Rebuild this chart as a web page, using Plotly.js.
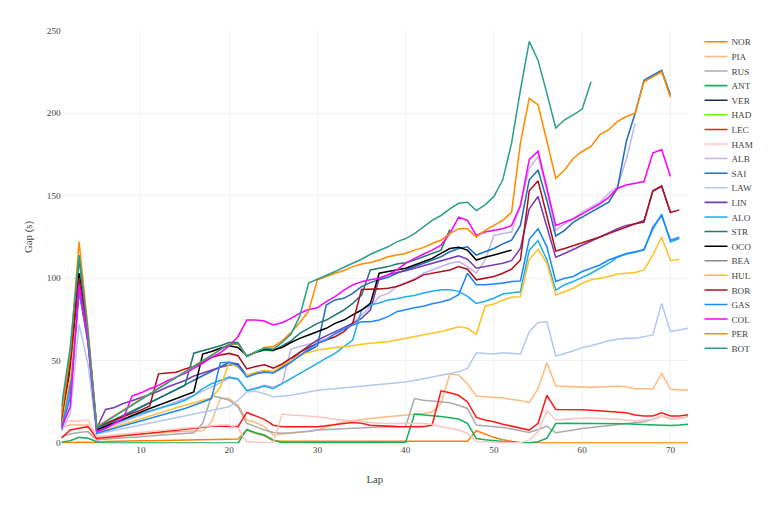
<!DOCTYPE html>
<html lang="en">
<head>
<meta charset="utf-8">
<title>Gap to leader</title>
<script src="https://cdn.plot.ly/plotly-3.0.1.min.js"></script>
<style>
html, body { margin: 0; padding: 0; background: #fff; overflow: hidden; }
#wrap { width: 768px; height: 506px; overflow: hidden; }
#chart { width: 1000px; height: 659px; transform: scale(0.768); transform-origin: 0 0; }
</style>
</head>
<body>
<div id="wrap"><div id="chart"></div></div>
<script>
var drivers = ["NOR","PIA","RUS","ANT","VER","HAD","LEC","HAM","ALB","SAI","LAW","LIN","ALO","STR","OCO","BEA","HUL","BOR","GAS","COL","PER","BOT"];
var colors = ["#FF8000","#FFBB80","#ABABAB","#17B05A","#1B2A5C","#66FF00","#FF1A1A","#FFC4C4","#C4B4EE","#1F6FBF","#B4C8F0","#7A3DB0","#1EAEF0","#1F7A70","#000000","#8C8C8C","#FFC125","#B0101E","#1E88FF","#FF00FF","#FF8C00","#2E9E8C"];

var NOR = [0,0.3,0.5,0.5,0.3, 1,1.2,1.3,1.4,1.5, 1.5,1.6,1.7,1.8,1.8, 1.9,2,2,2.1,2.2, 2.5,8,6,4.5,1.5, 1.2,1.2,1.2,1.2,1.2, 1.2,1.2,1.2,1.2,1.2, 1.2,1.2,1.2,1.2,1.2, 1.2,1.2,1.2,1.2,1.2, 1.2,1.2,7.5,5.5,3.5, 2,1,0.3,0,0, 0,0,0,0,0, 0,0,0,0,0, 0,0,0,0,0, 0,0];
var PIA = [10,11,11,11,3.5, 4,4.5,5,5.3,5.6, 6,6.3,6.6,6.9,7.2, 7.5,7.5,13,27,27, 23,14,12.5,10,4.9, 5.5,6,6.5,7,7.9, 9.5,11,12.9,13.5,14.4, 15,15.5,16,16.5,17, 17.5,18,19,24,41.9, 41.3,36,28.5,28.1,27.7, 27.3,26.5,25.8,24.5,33, 48.7,34.6,34.4,34.2,34, 33.8,34,34.2,34.5,34.2, 33,33,32.8,42.3,32.8, 32.2,32.2];
var RUS = [4,5.5,6.5,7,2, 2.5,3,3.3,3.6,4, 4.3,4.6,5,5.4,5.8, 6.3,12,28.7,27.7,26, 22,12,10,7.9,6.5, 6,6.3,6.6,7.2,7.9, 8.2,8.5,8.8,9.1,9.5, 9.6,9.8,10,10.2,10.3, 27,26,25.5,25,24.5, 23,21,11,10.5,10, 9.5,8.5,7.5,6.5,8.3, 10.3,6.3,7,7.9,8.9, 9.5,10.2,10.9,11.5,12, 12.4,13,14.4,16.4,14.8, 15,16];
var ANT = [0.5,1.5,3.5,3,0.8, 0,0,0,0,0, 0,0,0,0,0, 0,0,0,0,0, 0,8.3,6.3,4.9,1.8, 0.2,0.2,0.2,0.2,0.2, 0.2,0.2,0.2,0.2,0.2, 0.2,0.2,0.2,0.2,0.5, 17.6,17,16.6,16.2,15.4, 14.6,12,2.8,2,1.4, 1,0.8,0.3,0.3,0.8, 3,11.9,12,12,12, 12,11.9,11.9,11.8,11.7, 11.5,11.3,11.1,11,10.7, 11,11.5];
var VER = [13];
var HAD = [10];
var LEC = [3,8,9,10,2.8, 3.3,3.8,4.3,4.8,5.5, 6,6.6,7.2,7.8,8.6, 9.2,9.8,10.3,10.3,10.3, 10,18.6,16.4,14.4,10.9, 9.9,9.9,9.9,9.9,9.9, 10.5,11.3,11.9,12.5,12, 10.9,10.5,10.3,10,9.9, 9.9,10,11,31.7,30.5, 29,25,15.6,14,13, 11.5,10.3,9.3,7.9,12, 29,20.4,20.4,20.6,20.3, 20,19.6,19.2,18.8,18.4, 17,16.5,16.4,18.4,16.4, 16.4,17.2];
var HAM = [12.5,13.5,13.5,14,4, 4.5,5,5.5,6,6.5, 7,7.5,8,8.5,9, 9.5,10,10.5,11,11, 9,0.8,0.5,0.3,0.2, 17.6,17,16.8,16.4,16, 15.2,14.4,14,13.5,13, 12.3,12,11.9,11.9,11.9, 11.9,11.9,11.5,10,9, 8,6,1,0.8,0.5, 0.4,0.3,0.3,1.8,6.9, 19.6,14,14.4,15,15.3, 15.3,15.1,14.7,14.4,14, 13.5,14,14.4,16.4,14.8, 15,16];
var ALB = [9,30,92,62,7, 9,11,13,15,17, 19,21,23,25,27, 29,31.5,34,36.5,39.5, 38.5,32,33.5,35,34, 36,57,58.5,60,61.5, 63.5,66,69,73,77.5, 82.7,88.8,90.8,94.9,97.3, 99.5,103,105,107,109, 110,107,103,111,126, 127,128,144,166.7,173.7, 153,129,133,136,140, 143,146,151.5,155.5,172, 194];
var SAI = [11,35,93,63,8, 10.7,13.5,16.2,18.9,21.7, 24.4,27.1,29.9,32.6,35.3, 38.1,40.8,43.5,46.3,49, 48,41,42.5,44,43, 46,49.5,53,56,59, 83.7,86.8,87.8,90.8,94.9, 97.3,99,100.5,103,105, 107,109,111,113,116, 118,119,114,116,118, 120.8,123,132,159.6,165.6, 147,125.6,129,134,137, 140,143,146,154.5,183, 200,220,223,226,211];
var LAW = [7,18,72,48,5.5, 6.6,7.7,8.8,9.9,11, 12.1,13.2,14.3,15.4,16.5, 17.6,18.7,19.8,20.9,22, 26,31,31.5,30,28, 28.5,29,30,31,32, 32.5,33,33.5,34,34.5, 35,35.5,36,36.5,37, 38,39,40,41,42, 43.3,45.3,54.8,54.4,54, 54.8,54.4,54,67.6,73.2, 73.6,52.8,54.4,56,58, 59,60.5,62,63,63.5, 63.5,64.5,65.6,84.7,67.6, 68.6,69.6];
var LIN = [10,38,95,64,9, 20.4,21.6,24,25.7,27.7, 29.5,31.5,34,36,38, 40.7,42.5,44.3,46,47.3, 48,40.5,42,43.5,43, 46,50,55,59,62.5, 65,67.6,70,72.6,75.6, 80.7,100,102,103.5,104.5, 106,107.5,109,110.5,112, 113.5,111.5,106,107,108, 109,110.6,118,142,149.5, 131,112.7,115,117.5,120, 122.5,125,127.6,130,132, 133,135,152.6,155.5,139.8];
var ALO = [10,33,94,62,7, 9.5,12,14,16,18, 19.5,21,22.5,24,26, 29,33,36,38,40, 39,31.8,33,34.6,33, 36,39,42.3,45,48.3, 51.5,54.4,58.5,62.5,80.7, 83.7,85,86.8,87.5,88.8, 89.5,91,92,93,93, 92,89,84.7,86,87.8, 90.4,91.2,91.8,117,122.8, 111,92.8,96,98,100.5, 103,106,109,112.7,114.7, 115.7,117.5,129.6,138.8,122, 124];
var STR = [18,52,112,66,9, 11.6,14.2,16.8,19.4,22, 24.6,27.2,29.8,32.4,35, 54.5,56,57.5,59,61, 61,52.5,55,56.5,56, 59,62,66.5,69.6,72.6, 74.6,77.7,80.7,84.7,89.8, 105,106,107,108.6,109.4, 111,113,115,117,129.5];
var OCO = [12,45,103,64,8, 10.2,12.4,14.6,16.8,19, 21,23,25,27,29, 31,54,55.5,57.5,59, 58,53,55,57,56.5, 58,61,63.5,65.5,67.6, 69.6,72.6,74.6,77.7,80.7, 84.7,103,104,105,106, 108,110,112,115,118, 118.7,117,111,112.7,114, 115.5,117];
var BEA = [5];
var HUL = [12,40,98,63,6.5, 8,9.7,11.4,13,14.7, 16.4,18,19.7,21.4,23, 24.5,26,27.5,34,48.7, 46,41,43,44,43.5, 47,50,53.4,55,56.4, 57.2,58,58.5,59,60, 60.5,61,61.5,62.5,63.5, 64.5,65.5,66.5,67.6,69, 70.6,69.6,66,83,84.3, 86.8,88.4,88.8,111.4,117.5, 109,89.8,91.8,93.9,96.9, 99,100,101,102.5,103, 103.4,105,114,125,110.6, 111.4];
var BOR = [14,48,100,65,9.5, 12,14,16,18,20, 22.5,42,42.5,43,45, 46.5,49,52,53.4,54.4, 53,45,46.5,47.5,45.5, 48,51.5,55,58,60.5, 62.5,64.5,67.6,72.6,93.2, 93.2,93.5,93.9,95,96.9, 99,102,103,104,105, 107,105.4,99,100,101, 103,105.5,111,153,159, 138,116.5,118,119.7,121.6, 123,125,127,129,131, 133,134,153,156,139.8, 141.4];
var GAS = [8,28,92,61,6, 7.5,9,10.5,12,13.5, 15,16.5,18,19.5,21, 23,25,27,48.7,49, 47,40,42,43,42.5, 45.5,49,53,57,60.5, 62.5,66.5,69,71.6,73.6, 73.6,74.6,76.7,79.7,81, 82,83,84.5,85.5,87, 90,103,96,96,96.5, 97,98,98.3,123.6,130, 119,98,100,101,104, 106,108,111,113,115, 116,117,131,138,123, 124.8];
var COL = [9,22,96,62,6.9, 8.9,12,15,28.5,30.5, 33,35,37.8,40,42.3, 45.3,48.3,52,54.8,59, 64.5,74.6,74.6,74,71.6, 73,75.6,78.7,81,82, 85.8,88.8,92.8,95.9,97.9, 99,100,102,105,109, 112,114.5,117,120,127, 137,135,126,128,129, 130,132,144,172,177, 154.5,132,134,136,139, 142,145,149,154.5,156.5, 157.6,158.6,175.8,178,161.6];
var PER = [17,55,122,70,10, 13.3,16.7,20,23.3,26.7, 30,33.3,36.7,40,43.3, 46.7,50,53.3,56.7,60, 60,53,55,58,58.5, 62,67,73,80,99, 101,103,104.6,107,108.6, 109.5,111,113,114,115, 117,118.5,121,123,127, 130,130,125,129,132, 135,140,182,209,205, 183,160.6,165.6,172.7,176.8, 179.8,187,190,195,198, 200,219,222,225,209.7];
var BOT = [22,58,114,68,9.5, 12.9,16.2,19.6,23,26.3, 29.7,33,36.4,39.8,43.1, 46.5,49.9,53.2,56.6,60, 60.5,52.5,55.5,57.5,57, 61,66,77,97,99.3, 101.5,104,106.6,109,111.5, 114.5,116.7,119,122,124, 127,131,135,138,142, 145.4,146,141,144.4,149.5, 159.6,182,214,243.5,232, 212,191,196,199,202.5, 219];

var gaps = [NOR,PIA,RUS,ANT,VER,HAD,LEC,HAM,ALB,SAI,LAW,LIN,ALO,STR,OCO,BEA,HUL,BOR,GAS,COL,PER,BOT];

function laps(n){
    var out = [];
    for(var i=1;i<=n;i++){ out.push(i); }
    return out;
}

var data = [];
for(var i=0;i<drivers.length;i++){
    data.push({
        x: laps(gaps[i].length),
        y: gaps[i],
        name: drivers[i],
        type: 'scatter',
        mode: 'lines',
        line: {color: colors[i], width: 2}
    });
}

var layout = {
    width: 1000,
    height: 659,
    margin: {l: 80, r: 104, t: 40, b: 82},
    paper_bgcolor: '#fff',
    plot_bgcolor: '#fff',
    font: {family: '"Liberation Serif", "Times New Roman", serif', size: 12, color: '#444'},
    showlegend: true,
    legend: {x: 1.02, y: 1, xanchor: 'left', yanchor: 'top', font: {size: 12}},
    xaxis: {
        title: {text: 'Lap'},
        range: [1, 72],
        tick0: 0, dtick: 10,
        showgrid: true, gridcolor: '#eee',
        zeroline: false, showline: false, ticks: ''
    },
    yaxis: {
        title: {text: 'Gap (s)'},
        range: [0, 250],
        tick0: 0, dtick: 50,
        showgrid: true, gridcolor: '#eee',
        zeroline: false, showline: false, ticks: ''
    }
};

Plotly.newPlot('chart', data, layout, {displayModeBar: false, staticPlot: true});
</script>
</body>
</html>
